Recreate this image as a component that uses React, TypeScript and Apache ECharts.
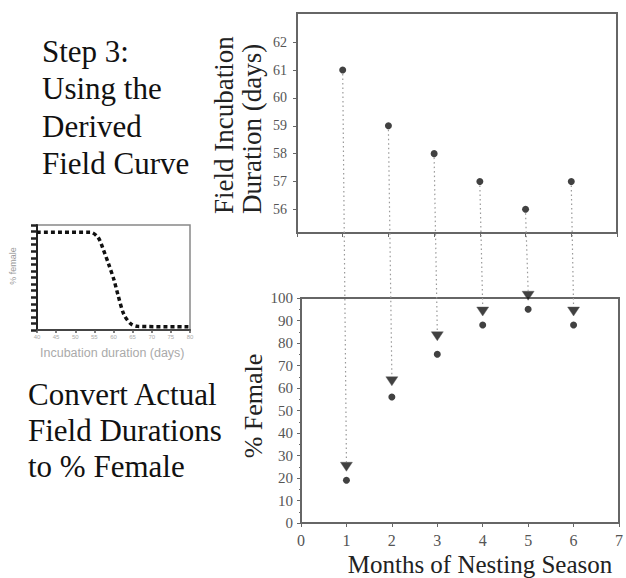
import React, { useEffect, useRef } from "react";
import * as echarts from "echarts";

// ---- data ----
const months = [1, 2, 3, 4, 5, 6];
const fieldDurations = [61, 59, 58, 57, 56, 57];
const femaleTriangle = [25, 63, 83, 94, 101, 94];
const femaleCircle = [19, 56, 75, 88, 95, 88];
const durationTicks = [56, 57, 58, 59, 60, 61, 62];
const insetDays = [40, 54, 56, 57.3, 58.8, 60.1, 61.2, 62.7, 64.5, 66.3, 80];
const insetFemale = [93, 93, 88, 77, 62, 48, 33, 15, 6, 3.5, 3];

const serif = "Liberation Serif";
const sans = "Liberation Sans";
const axisGray = "#666";
const labelGray = "#555";

function buildTexts(): any[] {
  const step = ["Step 3:", "Using the", "Derived", "Field Curve"];
  const conv = ["Convert Actual", "Field Durations", "to % Female"];
  const stepEls = step.map((t, i) => ({
    id: "t-step-" + i,
    type: "text",
    x: 42,
    y: 51 + i * 37.5,
    style: { text: t, fontSize: 31, fontFamily: serif, fill: "#111", textAlign: "left", textVerticalAlign: "middle" },
  }));
  const convEls = conv.map((t, i) => ({
    id: "t-conv-" + i,
    type: "text",
    x: 28,
    y: 394 + i * 36,
    style: { text: t, fontSize: 31, fontFamily: serif, fill: "#111", textAlign: "left", textVerticalAlign: "middle" },
  }));
  return [
    ...stepEls,
    ...convEls,
    {
      id: "t-ylab1a",
      type: "text",
      x: 224,
      y: 214,
      rotation: Math.PI / 2,
      style: { text: "Field Incubation", fontSize: 27, fontFamily: serif, fill: "#222", textAlign: "left", textVerticalAlign: "middle" },
    },
    {
      id: "t-ylab1b",
      type: "text",
      x: 252,
      y: 214,
      rotation: Math.PI / 2,
      style: { text: "Duration (days)", fontSize: 27, fontFamily: serif, fill: "#222", textAlign: "left", textVerticalAlign: "middle" },
    },
    {
      id: "t-ylab2",
      type: "text",
      x: 253,
      y: 406,
      rotation: Math.PI / 2,
      style: { text: "% Female", fontSize: 26, fontFamily: serif, fill: "#222", textAlign: "center", textVerticalAlign: "middle" },
    },
    {
      id: "t-xlab2",
      type: "text",
      x: 480,
      y: 564,
      style: { text: "Months of Nesting Season", fontSize: 25, fontFamily: serif, fill: "#222", textAlign: "center", textVerticalAlign: "middle" },
    },
    {
      id: "t-inset-x",
      type: "text",
      x: 40,
      y: 353,
      style: { text: "Incubation duration (days)", fontSize: 12.5, fontFamily: sans, fill: "#aaa", textAlign: "left", textVerticalAlign: "middle" },
    },
    {
      id: "t-inset-y",
      type: "text",
      x: 13,
      y: 266,
      rotation: Math.PI / 2,
      style: { text: "% female", fontSize: 9, fontFamily: sans, fill: "#999", textAlign: "center", textVerticalAlign: "middle" },
    },
  ];
}

export default function App() {
  const ref = useRef<HTMLDivElement>(null);

  useEffect(() => {
    if (!ref.current) return;
    const chart = echarts.init(ref.current, undefined, { renderer: "svg" });
    const texts = buildTexts();

    const option: any = {
      animation: false,
      backgroundColor: "#fff",
      textStyle: { fontFamily: serif },
      grid: [
        { left: 297, top: 13, width: 320, height: 220, show: true, borderColor: axisGray, borderWidth: 2, backgroundColor: "transparent" },
        { left: 301, top: 298, width: 321, height: 225, show: true, borderColor: axisGray, borderWidth: 2, backgroundColor: "transparent" },
        { left: 37, top: 225, width: 153, height: 105, show: true, borderColor: "#888", borderWidth: 1.5, backgroundColor: "transparent" },
      ],
      xAxis: [
        {
          gridIndex: 0, type: "value", min: 0, max: 7, interval: 1,
          axisLabel: { show: false },
          axisTick: { show: true, length: 4, lineStyle: { color: axisGray } },
          axisLine: { show: true, lineStyle: { color: axisGray, width: 2 } },
          splitLine: { show: false },
        },
        {
          gridIndex: 1, type: "value", min: 0, max: 7, interval: 1,
          axisLabel: { show: true, fontSize: 16, fontFamily: serif, color: labelGray, margin: 9 },
          axisTick: { show: true, length: 4, lineStyle: { color: axisGray } },
          axisLine: { show: true, lineStyle: { color: axisGray, width: 2 } },
          splitLine: { show: false },
        },
        {
          gridIndex: 2, type: "value", min: 40, max: 80, interval: 5,
          axisLabel: { show: true, fontSize: 6, fontFamily: sans, color: "#aaa", margin: 4 },
          axisTick: { show: true, length: 3, lineStyle: { color: "#555", width: 1.5 } },
          axisLine: { show: true, lineStyle: { color: "#444", width: 2 } },
          splitLine: { show: false },
        },
      ],
      yAxis: [
        {
          gridIndex: 0, type: "value", min: 55.15, max: 63.05,
          axisLabel: { show: true, fontSize: 14, fontFamily: serif, color: labelGray, margin: 10, customValues: durationTicks },
          axisTick: { show: true, length: 4, lineStyle: { color: axisGray }, customValues: durationTicks },
          axisLine: { show: true, lineStyle: { color: axisGray, width: 2 } },
          splitLine: { show: false },
        },
        {
          gridIndex: 1, type: "value", min: 0, max: 100, interval: 10,
          axisLabel: { show: true, fontSize: 15, fontFamily: serif, color: labelGray, margin: 8 },
          axisTick: { show: true, length: 4, lineStyle: { color: axisGray } },
          minorTick: { show: true, splitNumber: 2, length: 2, lineStyle: { color: axisGray } },
          axisLine: { show: true, lineStyle: { color: axisGray, width: 2 } },
          splitLine: { show: false },
          minorSplitLine: { show: false },
        },
        {
          gridIndex: 2, type: "value", min: 0, max: 100, interval: 6.25,
          axisLabel: { show: false },
          axisTick: { show: true, length: 6, lineStyle: { color: "#222", width: 2.5 } },
          axisLine: { show: true, lineStyle: { color: "#222", width: 2 } },
          splitLine: { show: false },
        },
      ],
      series: [
        {
          type: "scatter", xAxisIndex: 0, yAxisIndex: 0,
          data: months.map((m, i) => [m, fieldDurations[i]]),
          symbol: "circle", symbolSize: 7,
          itemStyle: { color: "#111" }, z: 5,
        },
        {
          type: "scatter", xAxisIndex: 1, yAxisIndex: 1,
          data: months.map((m, i) => [m, femaleTriangle[i]]),
          symbol: "triangle", symbolRotate: 180, symbolSize: [12, 9],
          itemStyle: { color: "#111", borderColor: "#555", borderWidth: 0.5 }, clip: false, z: 5,
        },
        {
          type: "scatter", xAxisIndex: 1, yAxisIndex: 1,
          data: months.map((m, i) => [m, femaleCircle[i]]),
          symbol: "circle", symbolSize: 7,
          itemStyle: { color: "#111" }, clip: false, z: 5,
        },
        {
          type: "line", xAxisIndex: 2, yAxisIndex: 2,
          data: insetDays.map((d, i) => [d, insetFemale[i]]),
          smooth: 0.3, showSymbol: false, symbol: "none",
          lineStyle: { color: "#111", width: 3.5, type: [4, 3] },
          z: 4,
        },
      ],
      graphic: { elements: texts },
    };

    chart.setOption(option);

    const lines: any[] = months.map((m, i) => {
      const p0 = chart.convertToPixel({ seriesIndex: 0 }, [m, fieldDurations[i]]) as number[];
      const p1 = chart.convertToPixel({ seriesIndex: 1 }, [m, femaleTriangle[i]]) as number[];
      return {
        id: "drop-" + i,
        type: "line",
        z: 1,
        shape: { x1: p0[0], y1: p0[1] + 4, x2: p1[0], y2: p1[1] - 5 },
        style: { stroke: "#999", lineWidth: 1.2, lineDash: [1.5, 3] },
      };
    });

    chart.setOption({ graphic: { elements: [...texts, ...lines] } });

    return () => chart.dispose();
  }, []);

  return (
    <div
      ref={ref}
      style={{ position: "fixed", left: 0, top: 0, width: 626, height: 578, background: "#fff" }}
    />
  );
}
